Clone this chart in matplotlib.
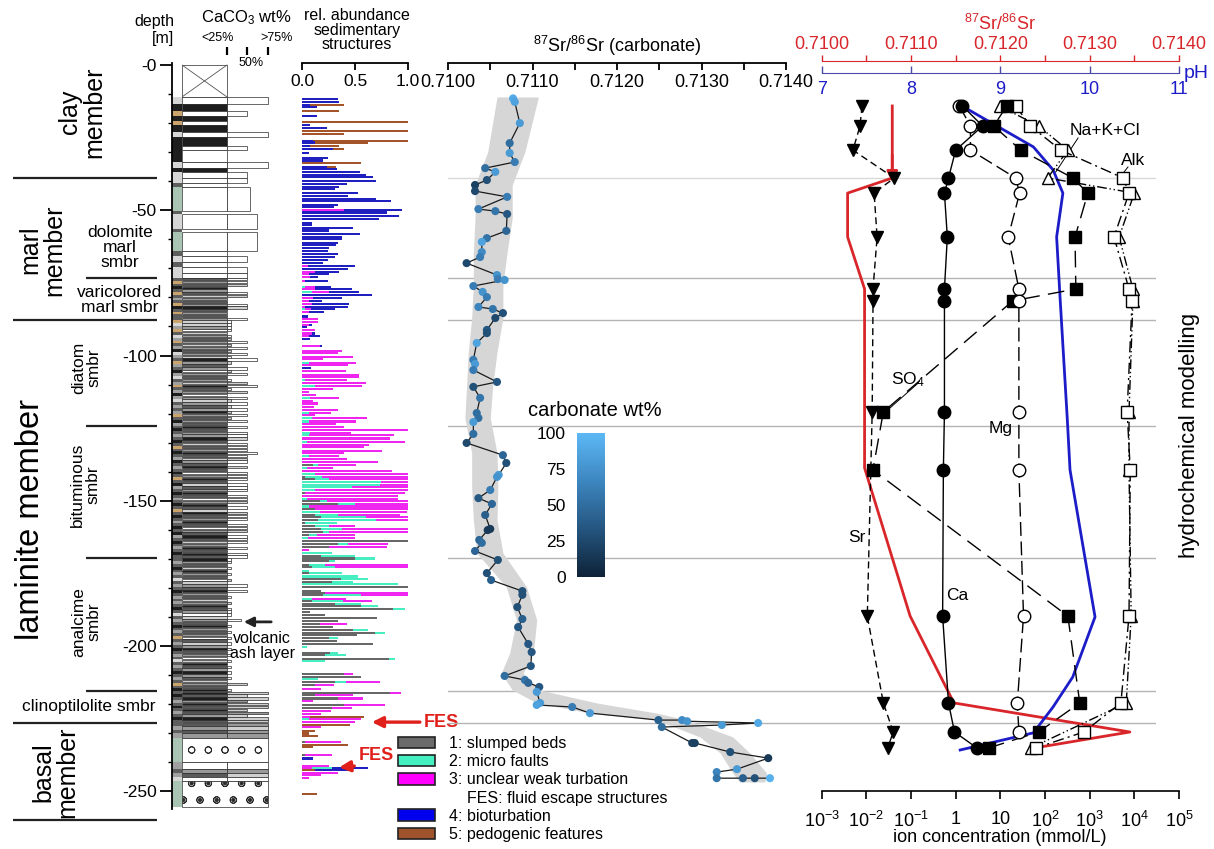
import numpy as np
import matplotlib
matplotlib.use("Agg")
import matplotlib.pyplot as plt
from matplotlib.colors import LinearSegmentedColormap
from matplotlib.patches import Patch

plt.rcParams['font.family'] = ['Liberation Sans', 'DejaVu Sans']
plt.rcParams['mathtext.fontset'] = 'custom'
plt.rcParams['mathtext.rm'] = 'Liberation Sans'
plt.rcParams['mathtext.it'] = 'Liberation Sans:italic'
plt.rcParams['mathtext.bf'] = 'Liberation Sans:bold'
plt.rcParams['hatch.linewidth'] = 0.6

# ------------------------------------------------------------------ data
# depths are metres below the top of the core (plotted as negative values)

# lithology: clay, marl and basal beds
bed_top = [11.0, 13.4, 15.8, 17.6, 19.3, 20.7, 23.1, 24.8, 27.9, 29.3, 33.4, 35.5, 36.8,
           38.9, 40.6, 42.0, 50.3, 51.3, 56.5, 57.5, 64.0, 65.7, 67.8, 69.5, 71.6,
           226.4, 227.6, 228.8, 230.0, 231.8, 239.8, 242.3, 243.6, 245.0, 246.5]
bed_base = [13.4, 15.8, 17.6, 19.3, 20.7, 23.1, 24.8, 27.9, 29.3, 33.4, 35.5, 36.8, 38.9,
            40.6, 42.0, 50.3, 51.3, 56.5, 57.5, 64.0, 65.7, 67.8, 69.5, 71.6, 73.3,
            227.6, 228.8, 230.0, 231.8, 239.8, 242.3, 243.6, 245.0, 246.5, 255.5]
bed_strip = "lktktklkkklklldndldndldll" + "dgdgngdgln"
bed_fill = "wkwkwkwkwwwkwwwwwwwwwwwww" + "dgdgwwgdww"
bed_extfill = "wwwwwwwwwwwwwwwwwwwwwwwww" + "glggwwglww"
bed_caco3 = [75, 25, 50, 25, 25, 25, 75, 25, 50, 25, 75, 25, 50,
             50, 25, 53, 0, 62, 0, 62, 25, 50, 25, 50, 50,
             75, 75, 75, 75, 75, 75, 75, 75, 75, 75]
bed_texture = "-------------------------" + "----o----c"
cap_depth = 11.0   # no recovery above this depth

# laminated intervals: (top, base) and one character per bed
lam_top = [73.3, 87.8, 124.1, 169.7, 215.6]
lam_base = [87.8, 124.1, 169.7, 215.6, 226.4]
lam_strip = ["dtdkdtdgdtkdtdd",
             "tlgtdlgtdgklgdtgdkgldgtdgkgldgdgtdkg",
             "dkdgdkdtdkdgkdgdkdtdkgdkdgdkdtdkdgdkdkgdkdgdkd",
             "dgdkdgdldgdkdgdgdkdldgdkdgdtdgdkdgdldgdkdgdtdk",
             "dkdgdkdgdkd"]
lam_fill = ["dgdkgdlgdgkdgdg",
            "llgwlgdglgdglkgdgwgdglkdgwglgdgkgdgd",
            "kdggkdldgkdlgdkdwgkdldgkdwgkdlkdgkdwgdkdlgkdkdgk",
            "kgdlkgdwlgdkgdlgkdgwlgdkgdgwdlgkdgwlkdgkgdlgdk",
            "kdkgkdkdgkd"]
lam_code = ["333113311331113",
            "222212232323242132312342313232323231",
            "3133313334333131333133313331313331333133313133",
            "2212121213131212122216121212121212121212121312",
            "53535535355"]
lam_extfill = ["wwlwwwlwwwlwwww",
               "wwwwwwlwlwlwwwlwwlwwwlwwlwwlwlwlwlww",
               "wwwwlwwwwwwlwwlwwwwlwwwwwwlwwwlwwwwwlwwwwwwwwwwwww",
               "wwlwwwwlwwlwwwwlwwwwwwwwlwwwlwwwlwwwwwlwwwwlwwwwww",
               "lllglllglll"]
caco3_of_code = {'1': 25, '2': 30, '3': 50, '4': 62, '5': 75, '6': 42}

# sedimentary structures (g slumped beds, a micro faults, m turbation, b bioturbation, p pedogenic)
sed_depth = [11.8, 12.6, 13.7, 14.5, 15.7, 17.6, 19.6, 20.6, 21.6, 22.6,
             23.8, 26.2, 26.7, 27.8, 29.0, 30.2, 31.9, 32.9, 33.8, 35.0,
             35.9, 36.8, 37.9, 38.5, 39.8, 41.0, 41.9, 42.8, 44.0, 45.1,
             46.0, 46.9, 48.1, 49.0, 49.9, 50.8, 52.0, 52.9, 54.3, 55.1,
             56.0, 57.0, 58.2, 59.1, 60.0, 61.2, 62.1, 63.0, 64.0, 65.1,
             66.0, 67.1, 68.1, 69.2, 70.1, 71.3, 72.0, 73.1, 74.3, 76.3,
             77.2, 78.1, 79.1, 80.2, 81.1, 82.2, 83.2, 84.1, 85.1, 86.6,
             87.3, 88.4, 89.4, 90.3, 91.2, 92.4, 93.3, 94.3, 96.7, 98.5,
             99.2, 100.4, 101.3, 102.5, 103.4, 104.3, 105.4, 106.8, 107.5, 108.4,
             109.6, 110.5, 111.4, 112.6, 113.5, 114.6, 115.6, 116.5, 117.6, 118.8,
             119.7, 120.6, 121.6, 122.7, 123.6, 124.5, 125.6, 126.6, 127.5, 128.6,
             129.7, 130.7, 131.6, 132.8, 133.7, 134.6, 135.5, 136.7, 137.8, 138.7,
             139.7, 140.8, 141.7, 142.6, 143.5, 144.5, 145.4, 146.3, 147.4, 148.4,
             149.5, 150.2, 151.1, 152.0, 152.9, 153.9, 154.8, 155.7, 156.6, 157.8,
             158.7, 159.8, 160.8, 161.7, 162.8, 163.8, 164.9, 165.8, 167.0, 168.1,
             169.0, 169.9, 170.8, 172.0, 172.9, 174.1, 175.0, 176.1, 177.0, 178.0,
             178.7, 179.6, 181.0, 181.9, 182.5, 183.7, 184.6, 185.5, 186.2, 187.4,
             188.3, 189.2, 190.4, 191.3, 192.4, 193.4, 194.5, 195.4, 196.3, 197.2,
             198.2, 199.3, 200.4, 202.3, 203.2, 204.4, 205.3, 209.6, 210.6, 211.5,
             212.4, 213.5, 214.7, 216.1, 217.0, 218.1, 219.0, 220.2, 221.3, 222.3,
             223.4, 224.3, 225.2, 226.2, 227.1, 228.0, 229.2, 230.1, 231.0, 233.0,
             234.0, 234.9, 237.6, 238.7, 241.3, 242.0, 242.7, 243.6, 244.5, 245.4,
             250.9]
sed_code = ["b.34", "b.35", "b.07 p.33", "b.14", "p.35", "b.14", "p1", "b.07", "b.23", "p1",
            "p.40", "b.10 p.90", "b.12 p.50", "b.07 p.28", "b.29 p.11", "b.06", "b.24", "b.20", "p.56", "b.23 p.09",
            "b.33", "b.55", "b.60", "b.67", "b.70", "b.42", "b.35", "b.31", "b.53", "b.43",
            "b.70", "b.84", "b.34", "b.30", "m.40 b.55", "b.80", "b.92", "b.73", "b.09", "b.09",
            "b.48", "b.25", "b.55", "b.38", "b.38", "b.34", "b.32", "b.25", "b.24", "b.34",
            "b.31", "b.24", "b.20", "m.05 b.45", "b.43", "m.12 b.23", "m.06 b.19", "m.07 b.08", "m.03 b.21", "a.03 m.09 b.15",
            "m.12 b.35", "a.09 m.16 b.29", "b.66", "m.10 b.28", "m.06 b.13", "m.09 b.35", "m.03 b.40", "a.03 m.05 b.23", "m.06 b.15", "b.05",
            "m.15", "m.15", "m.06 b.03", "b.04", "m.12", "m.09 b.03", "m.06 b.11", "b.07", "m.17 b.02", "m.38",
            "m.34", "m.48", "m.20", "a.06 m.45", "m.43", "b.08", "m.41", "m.54", "m.54", "a.03 m.39",
            "m.60", "a.12 m.45", "m.29", "m.06", "m.13", "a.07 m.28", "m.10", "m.15", "m.11", "m.34",
            "a.06 m.21", "m.12", "a.09 m.52", "a.06 m.45", "m.32", "m.40", "m1", "a.07 m.39", "a.06 m.81", "m.83",
            "a.04 m.93", "m.63", "m.59", "m.76", "m.40", "a.06 m.29", "m.42", "m.72", "g.10 a.05 m.36", "a.04 m.25",
            "m.85", "a.12 m.88", "g.03 a.16 m.81", "g.12 a.13 m.75", "a.75 m.25", "a.74 m.26", "a.47 m.53", "a.12 m.88", "g.03 m.94", "m.91",
            "a.04 m.87", "g.17 a.06 m.77", "g.34 a.16 m.50", "a.06 m.94", "g.12 m.88", "a.17 m.82", "g.12 a.22 m.59", "g.18 a.42 m.40", "g.15 a.55 m.30", "g.03 a.30",
            "g.12 a.13 m.25", "g.18 a.20 m.62", "g.20 a.05 m.75", "g.06 a.08 m.36", "a.05 m.45", "g1", "g.34 a.09 m.38", "g.25 m.55", "m.06", "a.28",
            "g.18 a.32", "g.50 a.19", "g.25 a.06", "g.06 a.16 m.78", "g.09 a.22 m.69", "a.06", "g.06 a.32", "a.53", "g.37 a.25", "g.28 a.20",
            "a.91", "g1", "g.18", "g.22 m.78", "g.20 a.36 m.44", "a.09 m.32", "g.09 a.30 m.27", "g.31 a.25", "g.56 a.16", "g.86 a.11",
            "g.07", "g.22", "g.71", "g.34", "g.17 m.25", "g.29", "g.48 a.14", "g.69 a.09", "g.52", "g.25 a.09",
            "g.33", "g.67", "a.04", "g.26 a.08", "g.22 a.19", "g.82 a.06", "a.22", "g.40 m.08", "g.56", "a.15",
            "g.31 a.10 m.33", "g.12 m.18", "m.18", "g.83 m.11", "g.12 m.36", "g.34 m.24", "m.10", "g.40 m.38", "g.28 m.19", "m.27",
            "m.18", "m.07 p.52", "a.06 m.50", "m.50", "p.45", "m.18", "p.12", "p.06", "p.15", "g.03 m.34",
            "p.43", "p.10", "g.03 m.25", "b.10", "m.25", "m.09 a.19 b.34", "p.12 b.36", "m.34", "m.18", "m.06",
            "p.14"]
sed_names = ["1: slumped beds", "2: micro faults", "3: unclear weak turbation",
             "    FES: fluid escape structures", "4: bioturbation", "5: pedogenic features"]

# 87Sr/86Sr of carbonate with carbonate content (wt%)
sr_depth = [11.5, 12.7, 20.0, 26.9, 30.3, 33.4, 35.5, 36.8, 39.6, 41.3,
            43.4, 45.4, 49.6, 50.3, 51.3, 57.1, 59.6, 60.9, 64.4, 66.1,
            68.2, 72.3, 73.7, 74.0, 76.1, 78.1, 79.9, 83.3, 84.0, 85.4,
            87.1, 91.2, 92.3, 95.7, 101.5, 102.9, 105.0, 109.1, 110.8, 114.6,
            119.8, 121.5, 122.9, 127.0, 130.1, 134.3, 137.0, 141.1, 141.8, 146.3,
            149.1, 151.1, 154.9, 159.7, 160.1, 163.5, 164.5, 167.3, 170.4, 174.9,
            177.3, 181.1, 182.4, 186.6, 190.7, 193.5, 199.3, 202.1, 206.9, 210.3,
            211.7, 212.7, 214.1, 215.8, 219.6, 220.3, 221.0, 223.1, 225.5, 225.5,
            225.9, 226.5, 227.2, 227.9, 233.4, 233.4, 236.5, 238.6, 242.4, 243.4,
            245.5, 245.5, 245.5, 245.5]
sr_ratio = [0.71077, 0.71079, 0.71085, 0.71073, 0.71073, 0.71079, 0.71044, 0.71056, 0.71046, 0.71032,
            0.71032, 0.71070, 0.71036, 0.71056, 0.71070, 0.71069, 0.71046, 0.71040, 0.71040, 0.71038,
            0.71022, 0.71058, 0.71059, 0.71067, 0.71030, 0.71041, 0.71046, 0.71036, 0.71053, 0.71065,
            0.71056, 0.71046, 0.71046, 0.71034, 0.71030, 0.71032, 0.71030, 0.71058, 0.71030, 0.71038,
            0.71034, 0.71036, 0.71030, 0.71030, 0.71022, 0.71065, 0.71069, 0.71060, 0.71058, 0.71050,
            0.71036, 0.71052, 0.71044, 0.71050, 0.71047, 0.71037, 0.71040, 0.71032, 0.71059, 0.71046,
            0.71051, 0.71088, 0.71088, 0.71082, 0.71088, 0.71083, 0.71095, 0.71099, 0.71098, 0.71067,
            0.71091, 0.71095, 0.71108, 0.71105, 0.71109, 0.71105, 0.71147, 0.71168, 0.71249, 0.71277,
            0.71283, 0.71367, 0.71324, 0.71253, 0.71289, 0.71292, 0.71334, 0.71379, 0.71342, 0.71318,
            0.71318, 0.71349, 0.71363, 0.71381]
sr_carbonate = [90, 85, 80, 50, 80, 60, 50, 80, 30, 20,
                25, 60, 60, 55, 35, 45, 55, 85, 70, 60,
                25, 75, 60, 75, 60, 75, 60, 65, 55, 30,
                25, 35, 30, 85, 60, 80, 60, 35, 30, 55,
                50, 50, 80, 50, 25, 45, 30, 80, 75, 60,
                35, 45, 40, 15, 15, 45, 50, 45, 30, 30,
                40, 30, 30, 30, 40, 35, 35, 35, 35, 50,
                55, 45, 35, 80, 80, 85, 60, 80, 40, 70,
                75, 90, 80, 50, 20, 20, 30, 15, 80, 65,
                55, 40, 30, 95]
# grey envelope around the Sr trend
env_depth = [11.0, 29.9, 41.3, 52.7, 64.4, 75.7, 87.1, 98.8, 110.2, 121.5, 133.6, 145.3, 156.6,
             168.0, 179.7, 191.0, 202.4, 209.3, 215.1, 219.6, 223.1, 225.5, 231.3, 236.8, 243.7, 246.8]
env_low = [0.71058, 0.71047, 0.71032, 0.71032, 0.71030, 0.71030, 0.71028, 0.71024, 0.71022, 0.71020,
           0.71028, 0.71028, 0.71030, 0.71034, 0.71069, 0.71081, 0.71073, 0.71063, 0.71076, 0.71105,
           0.71168, 0.71247, 0.71298, 0.71322, 0.71337, 0.71345]
env_high = [0.71107, 0.71091, 0.71076, 0.71076, 0.71070, 0.71065, 0.71065, 0.71058, 0.71053, 0.71050,
            0.71058, 0.71059, 0.71058, 0.71065, 0.71093, 0.71105, 0.71101, 0.71089, 0.71108, 0.71176,
            0.71247, 0.71283, 0.71337, 0.71357, 0.71377, 0.71375]

# pore-water chemistry from hydrochemical modelling (mmol/L)
hyd_depth = [14.1, 21.0, 29.3, 38.9, 44.1, 59.2, 77.1, 81.2, 119.4, 139.4, 189.7, 219.6, 229.6, 235.1]
hyd_ca = [1.42, 4.0, 1.0, 0.69, 0.56, 0.65, 0.56, 0.56, 0.56, 0.53, 0.51, 0.69, 0.94, 3.0]
hyd_mg = [1.21, 2.14, 2.14, 22, 27, 15, 26, 26, 26, 26, 33, 24, 26, np.nan]
hyd_so4 = [13.9, 7.1, 28.6, 420, 910, 470, 490, 19, 0.024, 0.014, 325, 600, 72, 5.5]
hyd_sr = [0.0080, 0.0072, 0.0050, 0.042, 0.0149, 0.0174, 0.0141, 0.0141, 0.0135, np.nan,
          0.0105, 0.024, 0.040, 0.030]
hyd_nakcl = [9.6, 72, 325, 114, 10000, 4570, 9300, 9300, 7600, 7600, 8500, 6600, np.nan, 48]
hyd_alk = [22, 47, 225, 5600, 7600, 3500, 7600, 8900, 6900, 8100, 7600, 5000, 740, 62]
model_sr_depth = [14.1, 38.9, 44.1, 59.2, 77.1, 138.7, 189.7, 219.6, 229.6, 234.8]
model_sr_ratio = [0.71079, 0.71079, 0.71029, 0.71029, 0.71048, 0.71048, 0.71099, 0.71148, 0.71345, 0.71244]
model_ph_depth = [14.1, 28.2, 36.1, 44.1, 59.2, 80.9, 122.2, 139.4, 190.0, 210.7, 221.0, 229.9, 235.8]
model_ph = [8.57, 9.37, 9.59, 9.70, 9.63, 9.67, 9.75, 9.78, 10.06, 9.81, 9.59, 9.37, 8.55]

# unit boundaries
member_bounds = [38.9, 87.8, 226.4, 259.9]
submember_bounds = [73.3, 124.1, 169.7, 215.6]
grid_bounds = [38.9, 73.3, 87.8, 124.1, 169.7, 215.6, 226.4]

# ------------------------------------------------------------------ styling
fill_col = {'k': '#1e1e1e', 'd': '#5a5a5a', 'g': '#999999', 'l': '#cfcfcf', 'w': '#ffffff'}
strip_col = {'k': '#1e1e1e', 'd': '#5e5e5e', 'g': '#a0a0a0', 'l': '#d6d6d6',
             't': '#caa46c', 'n': '#aac4b3'}
texture_hatch = {'-': None, 'o': 'o', 'c': 'o.'}
sed_col = {'g': '#676767', 'a': '#46eec2', 'm': '#f026f0', 'b': '#2020c0', 'p': '#a4542b'}
legend_col = ['#6b6b6b', '#44f0c0', '#ff00ff', None, '#0000ee', '#a0522d']
RED = '#d8262a'
BLUE = '#1c1cc8'

W, H = 1214.0, 849.0
Y0, PPM = 65.0, 2.905          # pixel row of 0 m, pixels per metre
D_TOP, D_BOT = 6.0, -262.0

fig = plt.figure(figsize=(W / 100, H / 100), dpi=100)


def frame(x0, x1):
    ytop = Y0 - D_TOP * PPM
    ybot = Y0 - D_BOT * PPM
    ax = fig.add_axes([x0 / W, 1 - ybot / H, (x1 - x0) / W, (ybot - ytop) / H])
    ax.set_ylim(D_BOT, D_TOP)
    ax.patch.set_visible(False)
    for s in ax.spines.values():
        s.set_visible(False)
    ax.set_xticks([])
    ax.set_yticks([])
    return ax


def row(py):
    return -(py - Y0) / PPM


def ftext(px, py, s, **kw):
    fig.text(px / W, 1 - py / H, s, **kw)


# ------------------------------------------------------------------ member labels
axlab = frame(0, 172)
axlab.set_xlim(0, 172)
axlab.hlines([-d for d in member_bounds], 13, 157, color='#222222', lw=1.6)
axlab.hlines([-d for d in submember_bounds], 86, 157, color='#222222', lw=1.6)
big = dict(rotation=90, ha='center', va='center', fontsize=18, linespacing=1.0)
axlab.text(82, row(112), 'clay\nmember', **big)
axlab.text(42, row(250), 'marl\nmember', **big)
axlab.text(31, row(520), 'laminite member', rotation=90, ha='center', va='center', fontsize=23.5)
axlab.text(55, row(772), 'basal\nmember', **big)
small = dict(ha='center', va='center', fontsize=12.5, linespacing=1.0)
axlab.text(120, row(247), 'dolomite\nmarl\nsmbr', **small)
axlab.text(120, row(300), 'varicolored\nmarl smbr', **small)
axlab.text(86, row(368), 'diatom\nsmbr', rotation=90, **small)
axlab.text(85, row(485), 'bituminous\nsmbr', rotation=90, **small)
axlab.text(86, row(622), 'analcime\nsmbr', rotation=90, **small)
axlab.text(89, row(707), 'clinoptilolite smbr', **small)

# ------------------------------------------------------------------ colour strip + depth axis
axst = frame(172, 182)
axst.set_xlim(0, 1)
for t, b, c in zip(bed_top, bed_base, bed_strip):
    axst.barh(-(t + b) / 2, 1, left=0, height=b - t, color=strip_col[c], lw=0)
for t0, b0, strip in zip(lam_top, lam_base, lam_strip):
    th = (b0 - t0) / len(strip)
    for i, c in enumerate(strip):
        axst.barh(-(t0 + th * (i + 0.5)), 1, left=0, height=th, color=strip_col[c], lw=0)
axst.spines['left'].set_visible(True)
axst.spines['left'].set_bounds(-256, 0.7)
axst.spines['left'].set_linewidth(1.3)
axst.set_yticks([0, -50, -100, -150, -200, -250])
axst.set_yticks(np.arange(0, -251, -10), minor=True)
axst.set_yticklabels(['-0', '-50', '-100', '-150', '-200', '-250'])
axst.tick_params(axis='y', which='major', length=9, width=1.3, labelsize=12.5, pad=2)
axst.tick_params(axis='y', which='minor', length=3, width=1.0)

# ------------------------------------------------------------------ CaCO3 column
wt_knots = [0, 25, 50, 75, 125]
px_knots = [0, 45, 65, 86, 118]


def _fwd(x):
    return np.interp(x, wt_knots, px_knots)


def _inv(p):
    return np.interp(p, px_knots, wt_knots)


axli = frame(182, 300)
axli.set_xscale('function', functions=(_fwd, _inv))
axli.set_xlim(0, 125)
edge = dict(edgecolor='#2a2a2a', linewidth=0.5)


def draw_bed(t, b, fill, extfill, wt, hatch=None, gap=0.0):
    if wt <= 0:
        return
    yc, h = -(t + b) / 2, (b - t) - gap
    if hatch:
        axli.barh(yc, wt, left=0, height=h, color=fill_col[fill], hatch=hatch, **edge)
        return
    axli.barh(yc, min(wt, 25), left=0, height=h, color=fill_col[fill], **edge)
    if wt > 25:
        axli.barh(yc, wt - 25, left=25, height=h, color=fill_col[extfill], **edge)


# unrecovered interval
axli.barh(-cap_depth / 2, 25, left=0, height=cap_depth, color='white', **edge)
axli.plot([0, 25], [0, -cap_depth], color='#555555', lw=0.6)
axli.plot([0, 25], [-cap_depth, 0], color='#555555', lw=0.6)
for t, b, f, e, wt, tx in zip(bed_top, bed_base, bed_fill, bed_extfill, bed_caco3, bed_texture):
    draw_bed(t, b, f, e, wt, texture_hatch[tx])
for t0, b0, fills, codes, exts in zip(lam_top, lam_base, lam_fill, lam_code, lam_extfill):
    n = min(len(fills), len(codes), len(exts))
    th = (b0 - t0) / n
    for i in range(n):
        draw_bed(t0 + th * i, t0 + th * (i + 1), fills[i], exts[i], caco3_of_code[codes[i]],
                 gap=0.22)
axli.spines['top'].set_visible(True)
axli.spines['top'].set_position(('data', row(55)))
axli.spines['top'].set_color('none')
axli.xaxis.set_ticks_position('top')
axli.set_xticks([25, 50, 75])
axli.set_xticklabels([])
axli.tick_params(axis='x', direction='out', length=6, width=1.6)
axli.annotate('', xy=(46, -191.7), xytext=(80, -191.7),
              arrowprops=dict(arrowstyle='-|>', color='#222222', lw=2.0, mutation_scale=14,
                              shrinkA=0, shrinkB=0), annotation_clip=False)
axli.text(68, row(646), 'volcanic\nash layer', ha='center', va='center', fontsize=11.5,
          linespacing=0.95)

ftext(174, 30, 'depth\n[m]', ha='right', va='center', fontsize=11.5, multialignment='right',
      linespacing=1.15)
ftext(246, 18, r'CaCO$_3$ wt%', ha='center', va='center', fontsize=12)
ftext(218, 38, '<25%', ha='center', va='center', fontsize=9)
ftext(277, 38, '>75%', ha='center', va='center', fontsize=9)
ftext(251, 63, '50%', ha='center', va='center', fontsize=9)

# ------------------------------------------------------------------ sedimentary structures
axse = frame(302.3, 407.7)
axse.set_xlim(0, 1)
for d, code in zip(sed_depth, sed_code):
    left = 0.0
    for tok in code.split():
        k, v = tok[0], float(tok[1:])
        axse.barh(-d, v, left=left, height=0.75, color=sed_col[k], lw=0)
        left += v
axse.spines['bottom'].set_visible(True)
axse.spines['bottom'].set_position(('data', row(63)))
axse.spines['bottom'].set_bounds(0, 1)
axse.spines['bottom'].set_linewidth(1.3)
axse.set_xticks([0, 0.5, 1.0])
axse.set_xticklabels(['0.0', '0.5', '1.0'])
axse.tick_params(axis='x', direction='out', length=5, width=1.3, labelsize=12.5, pad=3)
ftext(357, 30, 'rel. abundance\nsedimentary\nstructures', ha='center', va='center',
      fontsize=11.5, linespacing=0.95)
fes = dict(color='#e0201b', fontsize=13, fontweight='bold', va='center')
axse.annotate('FES', xy=(0.66, -226.2), xytext=(1.155, -226.2), ha='left',
              arrowprops=dict(arrowstyle='-|>', color='#e0201b', lw=2.4, mutation_scale=16,
                              shrinkA=1, shrinkB=0), annotation_clip=False, **fes)
axse.annotate('FES', xy=(0.35, -241.8), xytext=(0.70, row(756)), ha='center',
              arrowprops=dict(arrowstyle='-|>', color='#e0201b', lw=2.4, mutation_scale=16,
                              shrinkA=1, shrinkB=0, relpos=(0.35, 0.0)),
              annotation_clip=False, **fes)

handles = []
for c in legend_col:
    if c is None:
        handles.append(Patch(facecolor='none', edgecolor='none'))
    else:
        handles.append(Patch(facecolor=c, edgecolor='#222222', linewidth=1.2))
fig.legend(handles, sed_names, loc='upper left', bbox_to_anchor=(398 / W, 1 - 736 / H),
           frameon=False, fontsize=11.5, handlelength=2.3, handleheight=0.75,
           handletextpad=0.9, labelspacing=0.2, borderpad=0, borderaxespad=0)

# ------------------------------------------------------------------ unit boundaries across the right panels
axg = frame(448, 1156)
axg.set_xlim(0, 1)
for i, d in enumerate(grid_bounds):
    axg.axhline(-d, color='#d9d9d9' if i == 0 else '#b4b4b4', lw=1.0)

# ------------------------------------------------------------------ Sr isotopes of carbonate
axsr = frame(448, 786)
axsr.set_xlim(0.7100, 0.7140)
axsr.fill_betweenx([-d for d in env_depth], env_low, env_high, color='#d6d6d6', lw=0, zorder=1)
axsr.plot(sr_ratio, [-d for d in sr_depth], color='#1a1a1a', lw=0.9, zorder=2)
carb_cmap = LinearSegmentedColormap.from_list('carb', ['#0e2237', '#24557f', '#3d86c0', '#5cb8f4'])
sc = axsr.scatter(sr_ratio, [-d for d in sr_depth], c=sr_carbonate, cmap=carb_cmap,
                  vmin=0, vmax=100, s=34, edgecolors='none', zorder=3)
axsr.spines['bottom'].set_visible(True)
axsr.spines['bottom'].set_position(('data', row(63)))
axsr.spines['bottom'].set_bounds(0.7100, 0.7140)
axsr.spines['bottom'].set_linewidth(1.3)
axsr.set_xticks([0.7100, 0.7110, 0.7120, 0.7130, 0.7140])
axsr.set_xticklabels(['0.7100', '0.7110', '0.7120', '0.7130', '0.7140'])
axsr.set_xticks([0.7105, 0.7115, 0.7125, 0.7135], minor=True)
axsr.tick_params(axis='x', which='both', direction='out', length=5, width=1.3,
                 labelsize=13, pad=3)
ftext(617, 46, r'$^{87}$Sr/$^{86}$Sr (carbonate)', ha='center', va='center', fontsize=13)

cax = fig.add_axes([577 / W, 1 - 577 / H, 28 / W, 144 / H])
cb = fig.colorbar(sc, cax=cax)
cb.outline.set_visible(False)
cb.set_ticks([0, 25, 50, 75, 100])
cax.yaxis.set_ticks_position('left')
cax.tick_params(length=0, labelsize=12.5, pad=8)
ftext(595, 410, 'carbonate wt%', ha='center', va='center', fontsize=14.5)

# ------------------------------------------------------------------ hydrochemical modelling
axh = frame(821.7, 1179)
axh.set_xscale('log')
axh.set_xlim(1e-3, 1e5)
axr = axh.twiny()
axb = axh.twiny()
for a in (axr, axb):
    a.patch.set_visible(False)
    for s in a.spines.values():
        s.set_visible(False)
axh.set_zorder(axb.get_zorder() + 1)

# modelled Sr ratio (red) and pH (blue)
axr.set_xlim(0.7100, 0.7140)
axr.plot(model_sr_ratio, [-d for d in model_sr_depth], color=RED, lw=2.0)
axr.annotate('', xy=(model_sr_ratio[1], -model_sr_depth[1] - 1.5),
             xytext=(model_sr_ratio[1], -model_sr_depth[1] + 8),
             arrowprops=dict(arrowstyle='-|>', color=RED, lw=2.0, mutation_scale=16,
                             shrinkA=0, shrinkB=0))
axr.spines['top'].set_visible(True)
axr.spines['top'].set_position(('data', row(61)))
axr.spines['top'].set_bounds(0.7100, 0.7140)
axr.spines['top'].set_color(RED)
axr.xaxis.set_ticks_position('top')
axr.set_xticks([0.7100, 0.7110, 0.7120, 0.7130, 0.7140])
axr.set_xticklabels(['0.7100', '0.7110', '0.7120', '0.7130', '0.7140'])
axr.set_xticks([0.7105, 0.7115, 0.7125, 0.7135], minor=True)
axr.tick_params(axis='x', which='both', direction='out', length=4, width=1.0, colors=RED,
                labelsize=13, pad=2)
ftext(1000, 24, r'$^{87}$Sr/$^{86}$Sr', ha='center', va='center', fontsize=13, color=RED)

axb.set_xlim(7, 11)
axb.plot(model_ph, [-d for d in model_ph_depth], color=BLUE, lw=2.0)
axb.spines['bottom'].set_visible(True)
axb.spines['bottom'].set_position(('data', row(73)))
axb.spines['bottom'].set_bounds(7, 11)
axb.spines['bottom'].set_color('#4a4aa8')
axb.xaxis.set_ticks_position('bottom')
axb.set_xticks([7, 8, 9, 10, 11])
axb.set_xticklabels(['7', '8', '9', '10', '11'])
axb.tick_params(axis='x', direction='in', length=5, width=1.0, colors=BLUE, labelsize=13, pad=6)
axb.tick_params(axis='x', color='#4a4aa8')
ftext(1196, 73, 'pH', ha='center', va='center', fontsize=14, color=BLUE)


def ion_series(vals, marker, mfc, dashes, ms):
    v = np.asarray(vals, float)
    dd = -np.asarray(hyd_depth, float)
    ok = ~np.isnan(v)
    ln, = axh.plot(v[ok], dd[ok], color='black', lw=1.0, marker=marker, mfc=mfc, mec='black',
                   ms=ms, mew=1.0, zorder=3)
    if dashes:
        ln.set_dashes(dashes)


ion_series(hyd_nakcl, '^', 'white', (7, 2, 1, 2, 1, 2), 9)
ion_series(hyd_alk, 's', 'white', (8, 3, 1.5, 3), 8)
ion_series(hyd_so4, 's', 'black', (12, 6), 8)
ion_series(hyd_mg, 'o', 'white', (10, 4), 9)
ion_series(hyd_sr, 'v', 'black', (5, 3), 9)
ion_series(hyd_ca, 'o', 'black', None, 9)

axh.spines['bottom'].set_visible(True)
axh.spines['bottom'].set_position(('data', -250))
axh.spines['bottom'].set_linewidth(1.2)
exps = [-3, -2, -1, 0, 1, 2, 3, 4, 5]
conc_labels = ['10$^{-3}$', '10$^{-2}$', '10$^{-1}$', '1', '10', '10$^{2}$', '10$^{3}$',
               '10$^{4}$', '10$^{5}$']
axh.set_xticks([10.0 ** e for e in exps])
axh.set_xticklabels(conc_labels)
axh.xaxis.set_minor_locator(matplotlib.ticker.NullLocator())
axh.tick_params(axis='x', direction='out', length=6, width=1.2, labelsize=13, pad=8)
ftext(1000, 838, 'ion concentration (mmol/L)', ha='center', va='center', fontsize=13)

lab = dict(fontsize=12.5, ha='center', va='center')
axh.text(2190, row(130), 'Na+K+Cl', **lab)
axh.plot([549, 174], [row(138), row(172)], color='black', lw=0.7)
axh.text(9400, row(160), 'Alk', **lab)
axh.plot([7200, 5000], [row(167), row(176)], color='black', lw=0.7)
axh.text(0.083, row(380), r'SO$_4$', **lab)
axh.plot([0.145, 0.030], [row(383), row(410)], color='black', lw=0.7)
axh.text(10, row(428), 'Mg', **lab)
axh.text(0.0062, row(537), 'Sr', **lab)
axh.text(1.1, row(595), 'Ca', **lab)

ftext(1190, 435, 'hydrochemical modelling', rotation=90, ha='center', va='center', fontsize=16)

fig.savefig('out.png', dpi=100)
